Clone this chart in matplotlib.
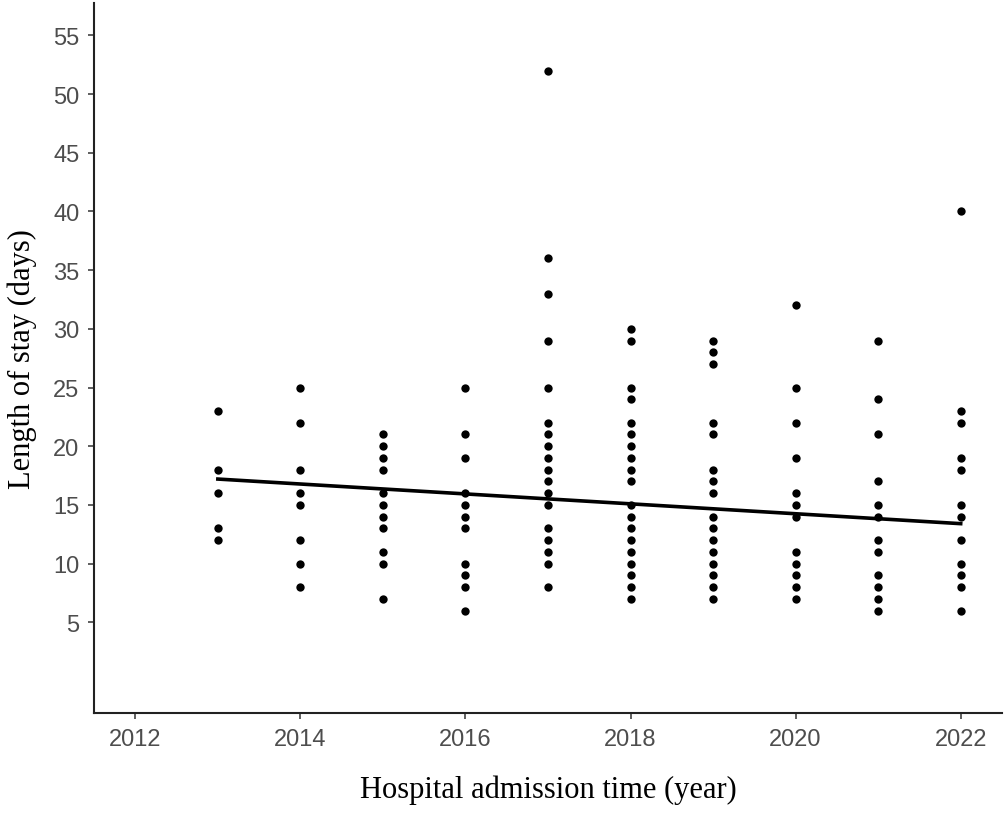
import matplotlib
matplotlib.use("Agg")
import matplotlib.pyplot as plt
import numpy as np

# Length of stay (days) per admission year
stay_2013 = [23, 18, 16, 13, 12]
stay_2014 = [25, 22, 18, 16, 15, 12, 10, 8]
stay_2015 = [21, 20, 19, 18, 16, 15, 14, 13, 11, 10, 7]
stay_2016 = [25, 21, 19, 16, 15, 14, 13, 10, 9, 8, 6]
stay_2017 = [52, 36, 33, 29, 25, 22, 21, 20, 19, 18, 17, 16, 15, 13, 12, 11, 10, 8]
stay_2018 = [30, 29, 25, 24, 22, 21, 20, 19, 18, 17, 15, 14, 13, 12, 11, 10, 9, 8, 7]
stay_2019 = [29, 28, 27, 22, 21, 18, 17, 16, 14, 13, 12, 11, 10, 9, 8, 7]
stay_2020 = [32, 25, 22, 19, 16, 15, 14, 11, 10, 9, 8, 7]
stay_2021 = [29, 24, 21, 17, 15, 14, 12, 11, 9, 8, 7, 6]
stay_2022 = [40, 23, 22, 19, 18, 15, 14, 12, 10, 9, 8, 6]

years = list(range(2013, 2023))
stays = [stay_2013, stay_2014, stay_2015, stay_2016, stay_2017,
         stay_2018, stay_2019, stay_2020, stay_2021, stay_2022]

# trend line (as drawn in the original, start and end year)
trend_years = [2013, 2022]
trend_stay = [17.2, 13.4]

x_ticks = [2012, 2014, 2016, 2018, 2020, 2022]
y_ticks = [5, 10, 15, 20, 25, 30, 35, 40, 45, 50, 55]

# flatten into point lists
xs = np.concatenate([[yr] * len(s) for yr, s in zip(years, stays)])
ys = np.concatenate(stays)

fig = plt.figure(figsize=(10.08, 8.2), dpi=100)
ax = fig.add_axes([0.0933, 0.129, 0.9007, 0.866])

ax.scatter(xs, ys, s=36, color="black", zorder=3, linewidths=0)
ax.plot(trend_years, trend_stay, color="black", linewidth=2.6, zorder=2)

ax.set_xlim(2011.5, 2022.5)
ax.set_ylim(-2.75, 57.75)
ax.set_xticks(x_ticks)
ax.set_yticks(y_ticks)

for side in ["top", "right"]:
    ax.spines[side].set_visible(False)
for side in ["left", "bottom"]:
    ax.spines[side].set_linewidth(1.5)
    ax.spines[side].set_color("#222222")

ax.tick_params(axis="both", length=4.5, width=1.1, color="#333333",
               labelcolor="#4D4D4D", labelsize=17, pad=6)
for lab in ax.get_xticklabels() + ax.get_yticklabels():
    lab.set_family("Liberation Sans")

ax.set_xlabel("Hospital admission time (year)", family="Liberation Serif",
              fontsize=22, labelpad=18)
ax.set_ylabel("Length of stay (days)", family="Liberation Serif",
              fontsize=22, labelpad=12)

fig.savefig("out.png", dpi=100)
